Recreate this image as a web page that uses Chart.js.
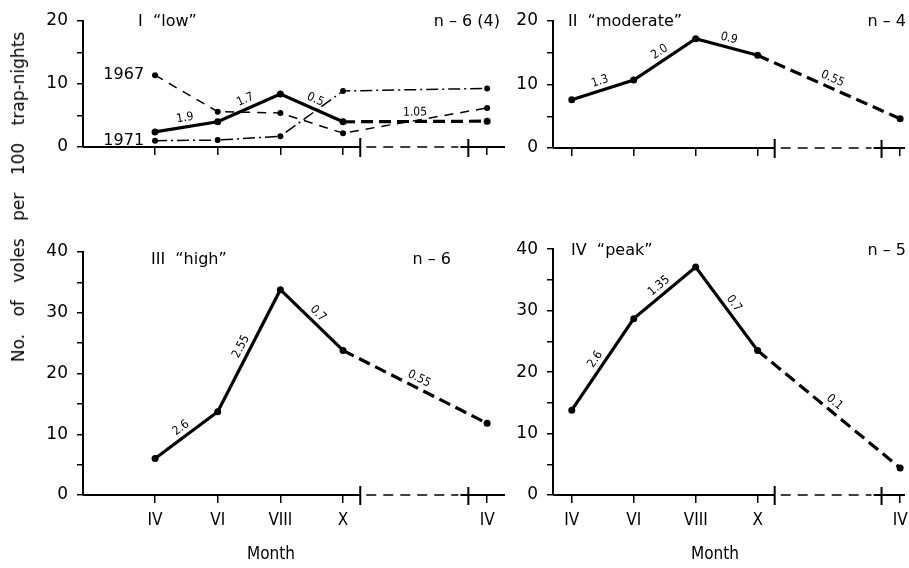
<!DOCTYPE html>
<html>
<head>
<meta charset="utf-8">
<script src="https://cdn.jsdelivr.net/npm/chart.js@4.4.1/dist/chart.umd.min.js"></script>
<style>
    body { margin: 0; background: #fff; }
    #wrap { position: relative; width: 909px; height: 568px; overflow: hidden; background: #fff; }
    canvas { position: absolute; }
    #ytitle {
        position: absolute; left: 18px; top: 197px;
        transform: translate(-50%, -50%) rotate(-90deg);
        font: 17px 'DejaVu Sans', sans-serif; word-spacing: 12px;
        white-space: nowrap; color: #000;
    }
</style>
</head>
<body>
<div id="wrap">
    <canvas id="low"></canvas>
    <canvas id="moderate"></canvas>
    <canvas id="high"></canvas>
    <canvas id="peak"></canvas>
    <div id="ytitle">No. of voles per 100 trap-nights</div>
</div>
<script>
// months on the (broken) time axis - next spring's IV is squeezed in
var monthLabels = ['IV', 'VI', 'VIII', 'X', 'IV'];
var monthPos = [4, 6, 8, 10, 14.6];

// voles per 100 trap-nights
var lowMean = [2.4, 4.0, 8.4, 4.0, 4.1];
var low1967 = [11.4, 5.6, 5.4, 2.2, 6.2];
var low1971 = [1.0, 1.1, 1.7, 8.9, 9.3];
var moderate = [7.6, 10.7, 17.2, 14.6, 4.6];
var high = [6.0, 13.7, 33.8, 23.8, 11.8];
var peak = [13.8, 28.7, 37.1, 23.5, 4.4];

// rates written along each segment
var lowRates = ['1.9', '1.7', '0.5', '1.05'];
var moderateRates = ['1.3', '2.0', '0.9', '0.55'];
var highRates = ['2.6', '2.55', '0.7', '0.55'];
var peakRates = ['2.6', '1.35', '0.7', '0.1'];

var narrow = '"DejaVu Sans Condensed", "Liberation Sans Narrow", "DejaVu Sans"';

function pts(values) {
    return values.map(function(v, i) { return {x: monthPos[i], y: v}; });
}

function mainLine(values) {
    return {
        data: pts(values),
        borderColor: '#000',
        borderWidth: 3.2,
        pointRadius: 3.5,
        pointBackgroundColor: '#000',
        pointBorderWidth: 0,
        segment: {
            borderDash: function(ctx) { return ctx.p0DataIndex === 3 ? [12, 6] : undefined; }
        }
    };
}

function thinLine(values, dash) {
    return {
        data: pts(values),
        borderColor: '#000',
        borderWidth: 1.5,
        borderDash: dash,
        pointRadius: 3,
        pointBackgroundColor: '#000',
        pointBorderWidth: 0
    };
}

// titles, rates, broken x axis
var decor = {
    id: 'decor',
    afterDraw: function(chart, args, o) {
        var ctx = chart.ctx, area = chart.chartArea, xs = chart.scales.x;
        var y0 = area.bottom;
        var brk = xs.getPixelForValue(10.55), plus = xs.getPixelForValue(14.0);
        ctx.save();
        ctx.strokeStyle = '#000';
        ctx.fillStyle = '#000';

        ctx.lineWidth = 2;
        ctx.beginPath();
        ctx.moveTo(area.left, y0); ctx.lineTo(brk, y0);
        ctx.moveTo(plus - 8, y0); ctx.lineTo(area.right, y0);
        ctx.moveTo(brk, y0 - 9); ctx.lineTo(brk, y0 + 10);
        ctx.moveTo(plus, y0 - 8); ctx.lineTo(plus, y0 + 10);
        ctx.stroke();
        ctx.lineWidth = 1.5;
        ctx.setLineDash([10, 7]);
        ctx.beginPath();
        ctx.moveTo(brk + 6, y0); ctx.lineTo(plus - 10, y0);
        ctx.stroke();
        ctx.setLineDash([]);

        ctx.textBaseline = 'middle';
        ctx.font = '16px "DejaVu Sans"';
        ctx.textAlign = 'left';
        ctx.fillText(o.title, o.titleAt[0] - o.left, o.titleAt[1] - o.top);
        ctx.textAlign = 'right';
        ctx.fillText(o.n, o.nAt[0] - o.left, o.nAt[1] - o.top);

        (o.series || []).forEach(function(s) {
            var p = chart.getDatasetMeta(s[0]).data[0];
            ctx.fillText(s[1], p.x - 11, p.y);
        });

        if (o.month) {
            ctx.textAlign = 'center';
            ctx.font = '17px ' + narrow;
            ctx.fillText('Month', o.month[0] - o.left, o.month[1] - o.top);
        }

        var m = chart.getDatasetMeta(0).data;
        ctx.font = '12px ' + narrow;
        ctx.textAlign = 'center';
        o.rates.forEach(function(r, i) {
            var a = m[i], b = m[i + 1];
            var ang = Math.atan2(b.y - a.y, b.x - a.x);
            var mx = (a.x + b.x) / 2 + Math.sin(ang) * 9;
            var my = (a.y + b.y) / 2 - Math.cos(ang) * 9;
            ctx.save();
            ctx.translate(mx, my);
            ctx.rotate(ang);
            ctx.fillText(r, 0, 0);
            ctx.restore();
        });
        ctx.restore();
    }
};

var panels = [
    {id: 'low', left: 0, top: 0, w: 520, h: 175, pad: {top: 21, right: 15, left: 0, bottom: 0},
     yWidth: 83, xHeight: 28, yMax: 20, xMin: 1.70, xMax: 15.17, labels: false,
     datasets: [mainLine(lowMean), thinLine(low1967, [9, 7]), thinLine(low1971, [12, 4, 2, 4])],
     rates: lowRates, title: 'I  “low”', titleAt: [138, 22], n: 'n – 6 (4)', nAt: [500, 22],
     series: [[1, '1967'], [2, '1971']]},
    {id: 'moderate', left: 460, top: 0, w: 449, h: 175, pad: {top: 21, right: 0, left: 0, bottom: 0},
     yWidth: 93, xHeight: 27, yMax: 20, xMin: 3.394, xMax: 14.757, labels: false,
     datasets: [mainLine(moderate)],
     rates: moderateRates, title: 'II  “moderate”', titleAt: [568, 22], n: 'n – 4', nAt: [906, 22]},
    {id: 'high', left: 0, top: 230, w: 520, h: 338, pad: {top: 22, right: 15, left: 0, bottom: 0},
     yWidth: 83, xHeight: 73, yMax: 40, xMin: 1.70, xMax: 15.17, labels: true,
     datasets: [mainLine(high)],
     rates: highRates, title: 'III  “high”', titleAt: [151, 260], n: 'n – 6', nAt: [451, 260],
     month: [271, 555]},
    {id: 'peak', left: 460, top: 230, w: 449, h: 338, pad: {top: 12, right: 0, left: 0, bottom: 0},
     yWidth: 93, xHeight: 73, yMax: 40, xMin: 3.394, xMax: 14.757, labels: true,
     datasets: [mainLine(peak)],
     rates: peakRates, title: 'IV  “peak”', titleAt: [571, 251], n: 'n – 5', nAt: [906, 251],
     month: [715, 555]}
];

panels.forEach(function(p) {
    var cv = document.getElementById(p.id);
    cv.width = p.w;
    cv.height = p.h;
    cv.style.left = p.left + 'px';
    cv.style.top = p.top + 'px';

    new Chart(cv.getContext('2d'), {
        type: 'line',
        data: {datasets: p.datasets},
        plugins: [decor],
        options: {
            responsive: false,
            animation: false,
            devicePixelRatio: 1,
            layout: {padding: p.pad},
            plugins: {
                legend: {display: false},
                tooltip: {enabled: false},
                decor: {left: p.left, top: p.top, title: p.title, titleAt: p.titleAt, n: p.n, nAt: p.nAt,
                        rates: p.rates, series: p.series, month: p.month}
            },
            scales: {
                x: {
                    type: 'linear',
                    min: p.xMin,
                    max: p.xMax,
                    border: {display: false},
                    grid: {drawOnChartArea: false, drawTicks: true, tickLength: 8, color: '#000', lineWidth: 1.5},
                    afterBuildTicks: function(s) {
                        s.ticks = monthPos.map(function(v) { return {value: v}; });
                    },
                    ticks: {
                        display: p.labels,
                        autoSkip: false,
                        maxRotation: 0,
                        padding: 7,
                        color: '#000',
                        font: {family: narrow, size: 17},
                        callback: function(v, i) { return monthLabels[i]; }
                    },
                    afterFit: function(s) {
                        s.height = p.xHeight;
                        s.paddingLeft = 0;
                        s.paddingRight = 0;
                    }
                },
                y: {
                    min: 0,
                    max: p.yMax,
                    border: {display: true, color: '#000', width: 2},
                    grid: {drawOnChartArea: false, drawTicks: true, tickLength: 6, color: '#000', lineWidth: 1.5},
                    ticks: {
                        stepSize: 5,
                        padding: 9,
                        color: '#000',
                        font: {family: 'DejaVu Sans', size: 17},
                        callback: function(v) { return v % 10 === 0 ? v : ''; }
                    },
                    afterFit: function(s) { s.width = p.yWidth; }
                }
            }
        }
    });
});
</script>
</body>
</html>
